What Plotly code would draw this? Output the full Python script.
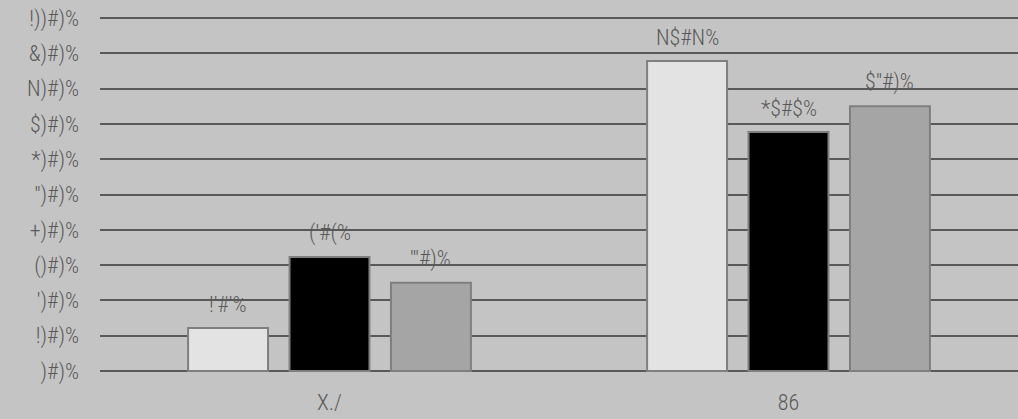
import plotly.graph_objects as go

# Text as it is rendered in the reference (font-encoded glyphs)
categories = ["X./", "86"]
series_a = [12.2, 87.8]
series_b = [32.3, 67.7]
series_c = [25.0, 75.0]
labels_a = ["!'#'%", "N$#N%"]
labels_b = ["('#(%", "*$#$%"]
labels_c = ["'\"#)%", "$\"#)%"]
tick_vals = [0, 10, 20, 30, 40, 50, 60, 70, 80, 90, 100]
tick_text = [")#)%", "!)#)%", "')#)%", "()#)%", "+)#)%", "\")#)%",
             "*)#)%", "$)#)%", "N)#)%", "&)#)%", "!))#)%"]

FONT = "Roboto Condensed, Liberation Sans Narrow, Arial Narrow, DejaVu Sans Condensed, sans-serif"
TXT = "#595959"
OUTLINE = "#7f7f7f"
FS = 22
FW = 300

BARGAP, GROUPGAP = 0.337, 0.212
slot = (1 - BARGAP) / 3  # width of one bar slot in category units

fig = go.Figure()
series = [(series_a, labels_a, "#e3e3e3"),
          (series_b, labels_b, "#000000"),
          (series_c, labels_c, "#a5a5a5")]
for k, (vals, labs, col) in enumerate(series):
    fig.add_trace(go.Bar(
        x=categories, y=vals,
        marker=dict(color=col, line=dict(color=OUTLINE, width=2)),
        showlegend=False, hoverinfo="skip",
    ))
    for i, (v, lab) in enumerate(zip(vals, labs)):
        fig.add_annotation(x=i + (k - 1) * slot, y=v, text=lab,
                           showarrow=False, yanchor="bottom", yshift=9,
                           font=dict(color=TXT, size=FS, family=FONT, weight=FW))

fig.update_layout(
    width=1018, height=419,
    barmode="group", bargap=BARGAP, bargroupgap=GROUPGAP,
    paper_bgcolor="#c4c4c4", plot_bgcolor="#c4c4c4",
    font=dict(family=FONT, size=FS, color=TXT, weight=FW),
    margin=dict(l=100, r=0, t=16, b=46),
    showlegend=False,
)
fig.update_xaxes(showgrid=False, zeroline=False, showline=False, ticks="",
                 ticklabelstandoff=14,
                 tickfont=dict(size=FS, color=TXT, weight=FW))
fig.update_yaxes(range=[-0.57, 100.57], tickvals=tick_vals, ticktext=tick_text,
                 showgrid=True, gridcolor="#595959", gridwidth=2,
                 zeroline=False, showline=False, ticks="",
                 ticklabelstandoff=20,
                 tickfont=dict(size=FS, color=TXT, weight=FW))

fig.write_html("out.html", config={"displayModeBar": False},
               post_script="document.body.style.margin='0';")
